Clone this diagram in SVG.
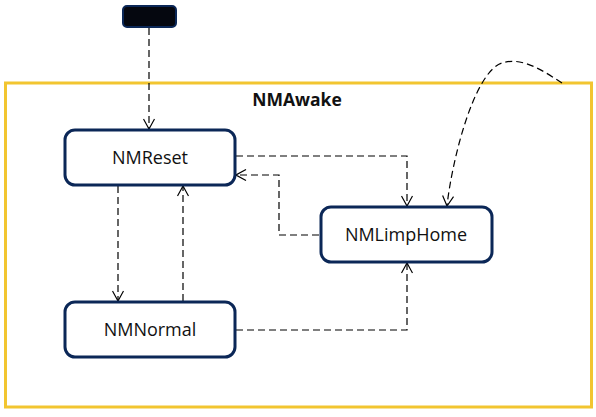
<svg xmlns="http://www.w3.org/2000/svg" width="596" height="417" viewBox="0 0 596 417">
<style>
.node{fill:#fff;stroke:#0b2757;stroke-width:3}
.lbl{font-family:"Open Sans","Liberation Sans",sans-serif;font-size:18px;fill:#111;text-anchor:middle;dominant-baseline:central}
.conn{fill:none;stroke:#000;stroke-width:1.2;stroke-dasharray:7 4}
</style>
<defs>
<marker id="arr" viewBox="0 0 12 12" refX="11" refY="6" markerWidth="12" markerHeight="12" markerUnits="userSpaceOnUse" orient="auto">
<path d="M1,0.5 L11,6 L1,11.5" fill="none" stroke="#000" stroke-width="1.2"/>
</marker>
</defs>
<rect width="596" height="417" fill="#fff"/>
<g id="frame">
<rect x="5.5" y="83" width="586" height="324" fill="none" stroke="#f2c530" stroke-width="3"/>
<text x="297" y="99" class="lbl" style="font-weight:bold;font-size:17.5px">NMAwake</text>
</g>
<g id="start">
<rect x="123" y="6" width="53" height="21" rx="4" fill="#05070f" stroke="#0b2757" stroke-width="2"/>
</g>
<g id="connectors">
<path class="conn" d="M149,28 V129" marker-end="url(#arr)"/>
<path class="conn" d="M118,186 V301" marker-end="url(#arr)"/>
<path class="conn" d="M183,301 V186" marker-end="url(#arr)"/>
<path class="conn" d="M236,156 H407 V206" marker-end="url(#arr)"/>
<path class="conn" d="M319,235 H279 V175 H236" marker-end="url(#arr)"/>
<path class="conn" d="M236,330 H407 V263" marker-end="url(#arr)"/>
<path class="conn" d="M562,83 C545,72 522,56 502,63 C474,72 452,160 447,206" marker-end="url(#arr)"/>
</g>
<g id="NMReset">
<rect class="node" x="65" y="130" width="170" height="55" rx="10"/>
<text class="lbl" x="150" y="157">NMReset</text>
</g>
<g id="NMNormal">
<rect class="node" x="65" y="302" width="170" height="55" rx="10"/>
<text class="lbl" x="150" y="329">NMNormal</text>
</g>
<g id="NMLimpHome">
<rect class="node" x="321" y="207" width="171" height="55" rx="10"/>
<text class="lbl" x="406" y="234">NMLimpHome</text>
</g>
</svg>
